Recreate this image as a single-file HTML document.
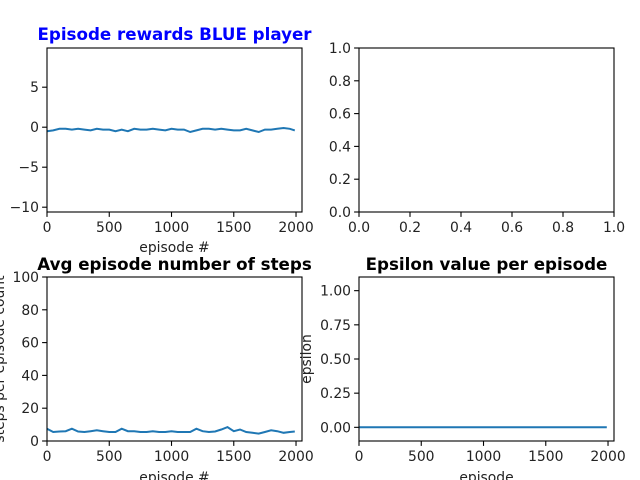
<!DOCTYPE html>
<html><head><meta charset="utf-8"><style>
body{margin:0;background:#fff}
svg{display:block;font-family:"DejaVu Sans","Liberation Sans",sans-serif}
</style></head><body>
<svg id="c" width="640" height="480" viewBox="0 0 640 480">
<rect width="640" height="480" fill="#fff"/>
</svg>
<script>
const rewardEpisodes=[0,50,100,150,200,250,300,350,400,450,500,550,600,650,700,750,800,850,900,950,1000,1050,1100,1150,1200,1250,1300,1350,1400,1450,1500,1550,1600,1650,1700,1750,1800,1850,1900,1950,1990];
const rewardValues=[-0.5,-0.4,-0.2,-0.2,-0.3,-0.2,-0.3,-0.4,-0.2,-0.3,-0.3,-0.5,-0.3,-0.5,-0.2,-0.3,-0.3,-0.2,-0.3,-0.4,-0.2,-0.3,-0.3,-0.6,-0.4,-0.2,-0.2,-0.3,-0.2,-0.3,-0.4,-0.4,-0.2,-0.4,-0.6,-0.3,-0.3,-0.2,-0.1,-0.2,-0.4];
const stepEpisodes=rewardEpisodes;
const stepValues=[7.5,5.5,5.8,6,7.5,5.8,5.5,6,6.5,6,5.5,5.5,7.5,6,6,5.5,5.5,6,5.5,5.5,6,5.5,5.5,5.5,7.5,6,5.5,5.8,7,8.5,6,7,5.5,5,4.5,5.5,6.5,6,5,5.5,5.8];
const epsEpisodes=[0,1990];
const epsValues=[0,0];
const xTicksEp=[0,500,1000,1500,2000];
const yTicksReward=[5,0,-5,-10];
const yTicksSteps=[0,20,40,60,80,100];
const yTicksEps=[0,0.25,0.5,0.75,1];
const unitTicks=[0,0.2,0.4,0.6,0.8,1];

const NS='http://www.w3.org/2000/svg';
const svg=document.getElementById('c');
function el(tag,attrs,parent,text){const e=document.createElementNS(NS,tag);for(const k in attrs)e.setAttribute(k,attrs[k]);if(text!==undefined)e.textContent=text;(parent||svg).appendChild(e);return e;}
function scale(d0,d1,r0,r1){return v=>r0+(v-d0)/(d1-d0)*(r1-r0);}

function axes(name,L,T,R,B,xd,yd,xt,yt,xfmt,yfmt){
  const g=el('g',{});
  
  
  const sx=scale(xd[0],xd[1],L,R),sy=scale(yd[0],yd[1],B,T);
  xt.forEach(v=>{const x=sx(v);
    const t=el('line',{x1:x,x2:x,y1:B,y2:B+4.9,stroke:'#000','stroke-width':1.1},g);
    
    const l=el('text',{x:x,y:B+20,'font-size':13.9,'text-anchor':'middle',fill:'#222'},g,xfmt(v));
    });
  yt.forEach(v=>{const y=sy(v);
    const t=el('line',{x1:L-4.9,x2:L,y1:y,y2:y,stroke:'#000','stroke-width':1.1},g);
    
    const l=el('text',{x:L-8,y:y+5,'font-size':13.9,'text-anchor':'end',fill:'#222'},g,yfmt(v));
    });
  return {g,sx,sy,L,T,R,B};
}
function frame(a){const r=el('rect',{x:a.L,y:a.T,width:a.R-a.L,height:a.B-a.T,fill:'none',stroke:'#000','stroke-width':1.1},a.g);
  }
function series(a,xs,ys,name){
  const d=xs.map((x,i)=>(i?'L':'M')+a.sx(x).toFixed(1)+','+a.sy(ys[i]).toFixed(1)).join('');
  const p=el('path',{d:d,fill:'none',stroke:'#1f77b4','stroke-width':2},a.g);
  
}
function txt(s,attrs,name){const t=el('text',attrs,svg,s);return t;}
const fmtInt=v=>v<0?'\u2212'+(-v):String(v);

// top-left
const a1=axes('rewards-axes',47,48,302,212,[0,2048],[-10.6,9.9],xTicksEp,yTicksReward,fmtInt,fmtInt);
series(a1,rewardEpisodes,rewardValues,'rewards-line');frame(a1);
txt('Episode rewards BLUE player',{x:174.5,y:40,'font-size':16.7,'font-weight':'bold','text-anchor':'middle',fill:'#0000ff'},'rewards-title');
txt('episode #',{x:174.5,y:252,'font-size':13.9,'text-anchor':'middle',fill:'#222'},'rewards-x-label');

// top-right empty
const a2=axes('empty-axes',359,48,614,212,[0,1],[0,1],unitTicks,unitTicks,v=>v.toFixed(1),v=>v.toFixed(1));frame(a2);

// bottom-left
const a3=axes('steps-axes',47,277,302,441,[0,2048],[0,100],xTicksEp,yTicksSteps,fmtInt,fmtInt);
series(a3,stepEpisodes,stepValues,'steps-line');frame(a3);
txt('Avg episode number of steps',{x:174.5,y:270,'font-size':16.7,'font-weight':'bold','text-anchor':'middle',fill:'#000'},'steps-title');
txt('episode #',{x:174.5,y:482,'font-size':13.9,'text-anchor':'middle',fill:'#222'},'steps-x-label');
txt('steps per episode count',{x:0,y:0,'font-size':13.9,'text-anchor':'middle',fill:'#222',transform:'translate(4,359) rotate(-90)'},'steps-y-label');

// bottom-right
const a4=axes('epsilon-axes',359,277,614,441,[0,2048],[-0.1,1.1],xTicksEp,yTicksEps,fmtInt,v=>v.toFixed(2));
series(a4,epsEpisodes,epsValues,'epsilon-line');frame(a4);
txt('Epsilon value per episode',{x:486.5,y:270,'font-size':16.7,'font-weight':'bold','text-anchor':'middle',fill:'#000'},'epsilon-title');
txt('episode',{x:486.5,y:482,'font-size':13.9,'text-anchor':'middle',fill:'#222'},'epsilon-x-label');
txt('epsilon',{x:0,y:0,'font-size':13.9,'text-anchor':'middle',fill:'#222',transform:'translate(311,359) rotate(-90)'},'epsilon-y-label');
</script>
</body></html>
